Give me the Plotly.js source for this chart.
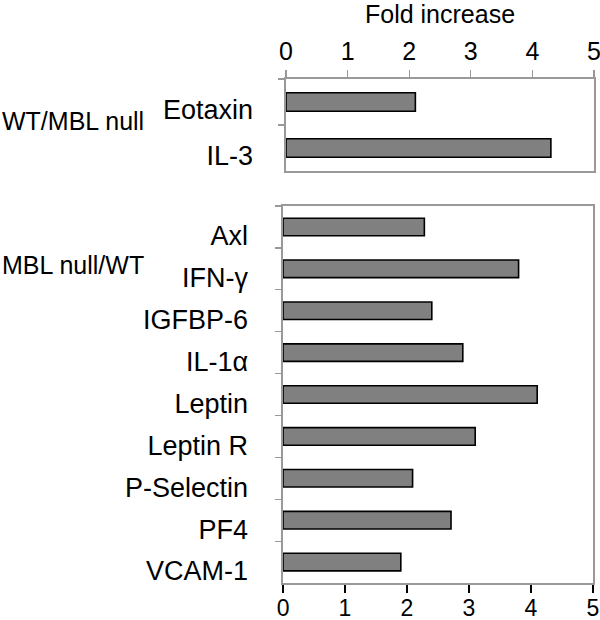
<!DOCTYPE html>
<html>
<head>
<meta charset="utf-8">
<script src="https://cdn.plot.ly/plotly-3.0.1.min.js"></script>
<style>html,body{margin:0;padding:0;background:#fff;}#chart{width:600px;height:620px;}</style>
</head>
<body>
<div id="chart"></div>
<script>
// Data
const topCategories = ["Eotaxin", "IL-3"];
const topValues = [2.10, 4.30];
const bottomCategories = ["Axl", "IFN-γ", "IGFBP-6", "IL-1α", "Leptin", "Leptin R", "P-Selectin", "PF4", "VCAM-1"];
const bottomValues = [2.28, 3.80, 2.40, 2.90, 4.10, 3.10, 2.09, 2.71, 1.90];
const groupLabels = ["WT/MBL null", "MBL null/WT"];
const axisTitle = "Fold increase";
const xTickVals = [0, 1, 2, 3, 4, 5];

const FONT = "Liberation Sans, Arial, sans-serif";
const barStyle = {color: "#808080", line: {color: "#000", width: 1.6}};

const traces = [
  {type: "bar", orientation: "h", x: topValues, y: topCategories, xaxis: "x", yaxis: "y",
   width: 0.4, marker: barStyle, hoverinfo: "x+y"},
  {type: "bar", orientation: "h", x: bottomValues, y: bottomCategories, xaxis: "x2", yaxis: "y2",
   width: 0.42, marker: barStyle, hoverinfo: "x+y"}
];

const frame = {showline: true, mirror: true, linecolor: "#999", linewidth: 1.6, zeroline: false, showgrid: false, automargin: false};

const layout = {
  width: 600, height: 620,
  margin: {l: 0, r: 0, t: 0, b: 0},
  paper_bgcolor: "#fff", plot_bgcolor: "#fff",
  showlegend: false,
  font: {family: FONT, color: "#000"},
  xaxis: Object.assign({}, frame, {
    domain: [0.4767, 0.99], anchor: "y", side: "top", range: [0, 5],
    tickvals: xTickVals, ticks: "outside", ticklen: 7, tickcolor: "#999", tickwidth: 1.2,
    tickfont: {size: 25, family: FONT}, ticklabelstandoff: 0, ticklabeloverflow: "allow",
    title: {text: axisTitle, font: {size: 25, family: FONT}, standoff: 12}
  }),
  yaxis: Object.assign({}, frame, {
    domain: [0.7242, 0.8726], anchor: "x", autorange: "reversed",
    ticks: "outside", tickson: "boundaries", ticklen: 6, tickcolor: "#999", tickwidth: 1.2,
    tickfont: {size: 27, family: FONT}, ticklabelstandoff: 26, ticklabelshift: -8
  }),
  xaxis2: Object.assign({}, frame, {
    domain: [0.4717, 0.9883], anchor: "y2", side: "bottom", range: [0, 5],
    tickvals: xTickVals, ticks: "outside", ticklen: 8, tickcolor: "#000", tickwidth: 1.6,
    tickfont: {size: 23, family: FONT}, ticklabelstandoff: -4, ticklabeloverflow: "allow"
  }),
  yaxis2: Object.assign({}, frame, {
    domain: [0.0597, 0.6677], anchor: "x2", autorange: "reversed",
    ticks: "outside", tickson: "boundaries", ticklen: 6, tickcolor: "#999", tickwidth: 1.2,
    tickfont: {size: 27, family: FONT}, ticklabelstandoff: 28, ticklabelshift: -9
  }),
  annotations: [
    {text: groupLabels[0], xref: "paper", yref: "paper", x: 0, y: (620 - 121) / 620,
     xanchor: "left", yanchor: "middle", showarrow: false, font: {size: 25, family: FONT}},
    {text: groupLabels[1], xref: "paper", yref: "paper", x: 0, y: (620 - 265) / 620,
     xanchor: "left", yanchor: "middle", showarrow: false, font: {size: 25, family: FONT}}
  ]
};

Plotly.newPlot("chart", traces, layout, {displayModeBar: false, staticPlot: true});
</script>
</body>
</html>
